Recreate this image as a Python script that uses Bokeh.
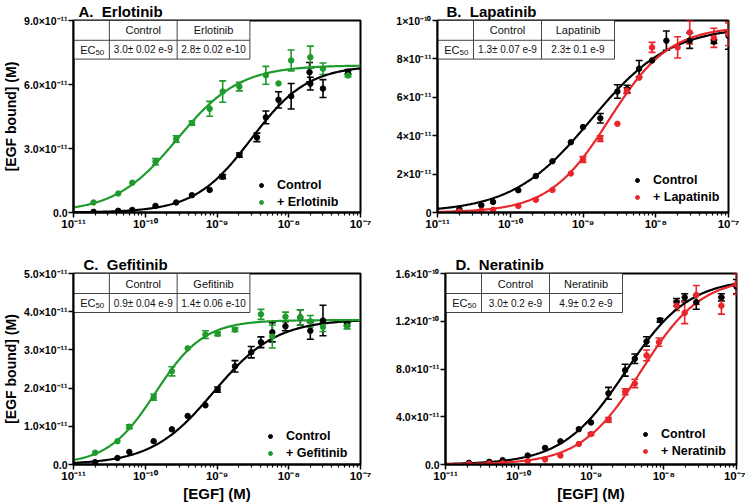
import numpy as np
from bokeh.plotting import figure
from bokeh.layouts import column, row
from bokeh.models import (ColumnDataSource, FixedTicker, CustomJSTickFormatter, Range1d,
                          Whisker, TeeHead, Legend, LegendItem, Title)
from bokeh.core.properties import value
from bokeh.embed import file_html
from bokeh.resources import INLINE

FONT = "Liberation Sans"
BLACK = "#000000"
GREEN = "#1f9a2c"
RED = "#e8262b"

# ---------------- shared x axis ----------------
x_ticks = [1e-11, 1e-10, 1e-9, 1e-8, 1e-7]
x_tick_labels = ["10⁻¹¹", "10⁻¹⁰", "10⁻⁹", "10⁻⁸", "10⁻⁷"]

# ---------------- Panel A: Erlotinib ----------------
a_ctrl_x = [1.9e-11, 4.2e-11, 6.6e-11, 1.39e-10, 2.7e-10, 4.47e-10, 7.9e-10, 1.2e-9, 2.05e-9,
            3.6e-9, 4.8e-9, 7.2e-9, 1.08e-8, 1.95e-8, 2.0e-8, 3.0e-8, 6.7e-8]
a_ctrl_y = [0.03e-11, 0.08e-11, 0.12e-11, 0.31e-11, 0.47e-11, 0.81e-11, 1.06e-11, 1.68e-11, 2.69e-11,
            3.52e-11, 4.46e-11, 5.28e-11, 5.45e-11, 6.58e-11, 6.04e-11, 5.81e-11, 6.6e-11]
a_ctrl_err = [0, 0, 0, 0, 0, 0, 0, 0.1e-11, 0.1e-11,
              0.2e-11, 0.3e-11, 0.38e-11, 0.6e-11, 0.45e-11, 0.3e-11, 0.42e-11, 0.1e-11]
a_drug_x = [1.9e-11, 4.2e-11, 6.6e-11, 1.39e-10, 2.7e-10, 4.47e-10, 7.9e-10, 1.2e-9, 2.05e-9,
            4.8e-9, 7.2e-9, 1.08e-8, 2.0e-8, 3.0e-8, 6.7e-8]
a_drug_y = [0.47e-11, 0.89e-11, 1.40e-11, 2.38e-11, 3.45e-11, 4.19e-11, 4.86e-11, 5.67e-11, 5.90e-11,
            6.43e-11, 6.05e-11, 7.13e-11, 7.28e-11, 6.74e-11, 6.42e-11]
a_drug_err = [0, 0, 0, 0.15e-11, 0.15e-11, 0.1e-11, 0.35e-11, 0.5e-11, 0.2e-11,
              0.42e-11, 0, 0.49e-11, 0.52e-11, 0.27e-11, 0.05e-11]
a_ctrl_fit = dict(ec50=3.0e-9, top=6.9e-11, hill=1.1)
a_drug_fit = dict(ec50=2.8e-10, top=6.9e-11, hill=1.0)
a_y_ticks = [0, 3e-11, 6e-11, 9e-11]
a_y_labels = ["0.0", "3.0×10⁻¹¹", "6.0×10⁻¹¹", "9.0×10⁻¹¹"]
a_header = ["Control", "Erlotinib"]
a_ec50 = ["3.0± 0.02 e-9", "2.8± 0.02 e-10"]

# ---------------- Panel B: Lapatinib ----------------
b_ctrl_x = [2.0e-11, 4.0e-11, 5.8e-11, 1.29e-10, 2.25e-10, 3.8e-10, 6.8e-10, 1.0e-9, 1.73e-9,
            2.97e-9, 4.05e-9, 5.9e-9, 8.9e-9, 1.4e-8, 2.93e-8, 6.3e-8, 1.0e-7]
b_ctrl_y = [0.17e-11, 0.38e-11, 0.55e-11, 1.16e-11, 1.90e-11, 2.67e-11, 3.66e-11, 4.45e-11, 4.91e-11,
            6.3e-11, 6.43e-11, 7.49e-11, 7.92e-11, 8.95e-11, 8.95e-11, 8.9e-11, 9.2e-11]
b_ctrl_err = [0, 0, 0, 0, 0, 0, 0, 0, 0.25e-11,
              0.35e-11, 0.2e-11, 0.43e-11, 0, 0.5e-11, 0.4e-11, 0.1e-11, 0.7e-11]
b_drug_x = [2.0e-11, 4.0e-11, 5.8e-11, 1.29e-10, 2.25e-10, 3.8e-10, 6.8e-10, 1.0e-9, 1.73e-9,
            2.97e-9, 4.0e-9, 5.9e-9, 8.9e-9, 2.0e-8, 2.93e-8, 6.3e-8, 1.0e-7]
b_drug_y = [0.05e-11, 0.09e-11, 0.14e-11, 0.34e-11, 0.66e-11, 1.17e-11, 2.03e-11, 2.76e-11, 3.85e-11,
            4.62e-11, 6.35e-11, 7.02e-11, 8.6e-11, 8.6e-11, 9.38e-11, 9.1e-11, 9.3e-11]
b_drug_err = [0, 0, 0, 0, 0, 0, 0, 0.15e-11, 0.15e-11,
              0, 0.15e-11, 0, 0.26e-11, 0.55e-11, 0.6e-11, 0.5e-11, 0.6e-11]
b_ctrl_fit = dict(ec50=1.3e-9, top=9.7e-11, hill=0.8)
b_drug_fit = dict(ec50=2.3e-9, top=9.7e-11, hill=1.05)
b_y_ticks = [0, 2e-11, 4e-11, 6e-11, 8e-11, 1e-10]
b_y_labels = ["0", "2×10⁻¹¹", "4×10⁻¹¹", "6×10⁻¹¹", "8×10⁻¹¹", "1×10⁻¹⁰"]
b_header = ["Control", "Lapatinib"]
b_ec50 = ["1.3± 0.07 e-9", "2.3± 0.1 e-9"]

# ---------------- Panel C: Gefitinib ----------------
c_ctrl_x = [2.0e-11, 4.1e-11, 6.0e-11, 1.31e-10, 2.35e-10, 3.9e-10, 6.9e-10, 1.02e-9, 1.78e-9,
            3.0e-9, 4.1e-9, 5.9e-9, 9.0e-9, 1.45e-8, 2.0e-8, 3.0e-8, 6.5e-8]
c_ctrl_y = [0.06e-11, 0.17e-11, 0.33e-11, 0.61e-11, 0.92e-11, 1.27e-11, 1.55e-11, 1.96e-11, 2.57e-11,
            2.94e-11, 3.2e-11, 3.46e-11, 3.62e-11, 3.85e-11, 3.5e-11, 3.77e-11, 3.68e-11]
c_ctrl_err = [0, 0, 0, 0, 0, 0, 0, 0.07e-11, 0.15e-11,
              0.15e-11, 0.14e-11, 0.25e-11, 0.12e-11, 0.2e-11, 0.22e-11, 0.4e-11, 0.05e-11]
c_drug_x = [2.0e-11, 4.1e-11, 6.0e-11, 1.31e-10, 2.35e-10, 3.9e-10, 6.9e-10, 1.02e-9, 1.78e-9,
            4.1e-9, 5.9e-9, 9.0e-9, 1.45e-8, 2.0e-8, 3.0e-8, 6.5e-8]
c_drug_y = [0.31e-11, 0.61e-11, 0.99e-11, 1.76e-11, 2.44e-11, 3.04e-11, 3.40e-11, 3.42e-11, 3.53e-11,
            3.93e-11, 3.35e-11, 3.87e-11, 3.85e-11, 3.75e-11, 3.6e-11, 3.62e-11]
c_drug_err = [0, 0, 0.05e-11, 0.08e-11, 0.12e-11, 0, 0.1e-11, 0.05e-11, 0.05e-11,
              0.13e-11, 0.3e-11, 0.12e-11, 0.2e-11, 0.15e-11, 0.12e-11, 0.07e-11]
c_ctrl_fit = dict(ec50=0.9e-9, top=3.8e-11, hill=1.0)
c_drug_fit = dict(ec50=1.4e-10, top=3.78e-11, hill=1.3)
c_y_ticks = [0, 1e-11, 2e-11, 3e-11, 4e-11, 5e-11]
c_y_labels = ["0.0", "1.0×10⁻¹¹", "2.0×10⁻¹¹", "3.0×10⁻¹¹", "4.0×10⁻¹¹", "5.0×10⁻¹¹"]
c_header = ["Control", "Gefitinib"]
c_ec50 = ["0.9± 0.04 e-9", "1.4± 0.06 e-10"]

# ---------------- Panel D: Neratinib ----------------
d_ctrl_x = [2.1e-11, 4.0e-11, 6.1e-11, 1.35e-10, 2.34e-10, 3.8e-10, 6.8e-10, 1.0e-9, 1.74e-9,
            2.95e-9, 4.0e-9, 5.8e-9, 8.9e-9, 1.5e-8, 1.94e-8, 2.8e-8, 6.2e-8, 1.0e-7]
d_ctrl_y = [0.14e-11, 0.22e-11, 0.36e-11, 0.75e-11, 1.39e-11, 1.94e-11, 2.96e-11, 3.52e-11, 5.96e-11,
            7.9e-11, 8.86e-11, 10.3e-11, 12.08e-11, 13.6e-11, 14.0e-11, 13.6e-11, 14.0e-11, 14.9e-11]
d_ctrl_err = [0, 0, 0, 0, 0, 0, 0, 0, 0.5e-11,
              0.5e-11, 0.4e-11, 0.4e-11, 0.15e-11, 0.3e-11, 0.3e-11, 0.6e-11, 0.3e-11, 0.6e-11]
d_drug_x = [2.1e-11, 4.0e-11, 6.1e-11, 1.35e-10, 2.34e-10, 3.8e-10, 6.8e-10, 1.0e-9, 1.74e-9,
            2.95e-9, 4.0e-9, 5.8e-9, 8.6e-9, 1.5e-8, 1.94e-8, 2.8e-8, 6.2e-8, 1.0e-7]
d_drug_y = [0.05e-11, 0.08e-11, 0.11e-11, 0.28e-11, 0.42e-11, 0.75e-11, 1.72e-11, 2.55e-11, 3.74e-11,
            6.09e-11, 6.79e-11, 9.14e-11, 10.25e-11, 13.3e-11, 12.7e-11, 14.2e-11, 13.3e-11, 15.1e-11]
d_drug_err = [0, 0, 0, 0, 0, 0, 0, 0.1e-11, 0.2e-11,
              0.25e-11, 0.35e-11, 0.45e-11, 0.35e-11, 0.4e-11, 0.9e-11, 0.8e-11, 0.7e-11, 0.85e-11]
d_ctrl_fit = dict(ec50=3.0e-9, top=15.6e-11, hill=1.0)
d_drug_fit = dict(ec50=4.9e-9, top=15.7e-11, hill=1.05)
d_y_ticks = [0, 4e-11, 8e-11, 1.2e-10, 1.6e-10]
d_y_labels = ["0.0", "4.0×10⁻¹¹", "8.0×10⁻¹¹", "1.2×10⁻¹⁰", "1.6×10⁻¹⁰"]
d_header = ["Control", "Neratinib"]
d_ec50 = ["3.0± 0.2 e-9", "4.9± 0.2 e-9"]


def tick_formatter(tick_values, tick_texts):
    return CustomJSTickFormatter(args=dict(tvals=tick_values, ttexts=tick_texts), code="""
        for (let i = 0; i < tvals.length; i++) {
            const t = tvals[i];
            if (Math.abs(tick - t) <= 1e-6 * Math.abs(t) + 1e-30) return ttexts[i];
        }
        return "";
    """)


def fit_curve(xs, fit):
    h = fit["hill"]
    return fit["top"] * xs ** h / (fit["ec50"] ** h + xs ** h)


def panel(title, title_dx, ymax, y_ticks, y_labels,
          ctrl, drug, drug_color, drug_name, header, ec50_texts,
          legend_pos, width, height, borders, ylabel=None, xlabel=None):
    mbl, mbr, mbt, mbb = borders
    W = width - mbl - mbr
    H = height - mbt - mbb
    p = figure(width=width, height=height, x_axis_type="log",
               x_range=Range1d(1e-11, 1e-7), y_range=Range1d(0, ymax),
               output_backend="svg", toolbar_location=None,
               min_border_left=mbl, min_border_right=mbr,
               min_border_top=mbt, min_border_bottom=mbb)
    p.grid.visible = False
    p.outline_line_color = "black"
    p.outline_line_width = 2
    p.outline_line_alpha = 1

    p.title = Title(text=title, align="left", offset=title_dx, standoff=1,
                    text_font=FONT, text_font_style="bold", text_font_size="15px",
                    text_color="black")

    def fx(px):
        return 10 ** (-11 + 4 * px / W)

    def fy(py):
        return ymax * (1 - py / H)

    # axes
    xa = p.xaxis[0]
    xa.ticker = FixedTicker(ticks=x_ticks,
                            minor_ticks=[m * 10.0 ** e for e in range(-11, -7) for m in range(2, 10)])
    xa.formatter = tick_formatter(x_ticks, x_tick_labels)
    ya = p.yaxis[0]
    ya.ticker = FixedTicker(ticks=y_ticks)
    ya.formatter = tick_formatter(y_ticks, y_labels)
    for ax in (xa, ya):
        ax.axis_line_width = 2
        ax.axis_line_color = "black"
        ax.major_tick_line_width = 1.5
        ax.major_tick_line_color = "black"
        ax.major_tick_in = 0
        ax.major_tick_out = 5
        ax.major_label_text_font = FONT
        ax.major_label_text_font_style = "bold"
        ax.major_label_text_color = "black"
        ax.major_label_standoff = 1
        ax.axis_label_text_font = FONT
        ax.axis_label_text_font_style = "bold"
        ax.axis_label_text_color = "black"
    xa.minor_tick_in = 0
    xa.minor_tick_out = 3
    xa.minor_tick_line_width = 1.2
    xa.minor_tick_line_color = "black"
    xa.major_label_text_font_size = "11.5px"
    xa.major_label_standoff = 0
    ya.minor_tick_out = 0
    ya.minor_tick_in = 0
    ya.major_label_text_font_size = "10.5px"
    if ylabel:
        ya.axis_label = ylabel
        ya.axis_label_text_font_size = "14px"
        ya.axis_label_standoff = 2
    if xlabel:
        xa.axis_label = xlabel
        xa.axis_label_text_font_size = "15px"
        xa.axis_label_standoff = 0

    # fitted curves (one-site fits, EC50 as in the table)
    xs = np.logspace(-11, -7, 300)
    for fit, color in ((ctrl[3], BLACK), (drug[3], drug_color)):
        p.line(xs, fit_curve(xs, fit), line_color=color, line_width=2.2)

    renderers = []
    for (xv, yv, ev, _), color in ((ctrl, BLACK), (drug, drug_color)):
        keep = [i for i, e in enumerate(ev) if e > 0]
        src = ColumnDataSource(dict(
            x=[xv[i] for i in keep],
            upper=[yv[i] + ev[i] for i in keep],
            lower=[yv[i] - ev[i] for i in keep]))
        w = Whisker(source=src, base="x", upper="upper", lower="lower",
                    line_color=color, line_width=1.6,
                    upper_head=TeeHead(size=7, line_color=color, line_width=1.6),
                    lower_head=TeeHead(size=7, line_color=color, line_width=1.6))
        p.add_layout(w)
        r = p.scatter(xv, yv, size=5.5, color=color, marker="circle")
        renderers.append(r)

    # EC50 table
    cols = [0, 36, 104, 177]
    rows = [0, 20, 39]
    p.quad(left=[fx(cols[0])], right=[fx(cols[3])], top=[fy(rows[0])], bottom=[fy(rows[2])],
           fill_color="white", line_color=None)
    hx0 = [fx(cols[0]), fx(cols[0])]
    hx1 = [fx(cols[3]), fx(cols[3])]
    hy = [fy(rows[1]), fy(rows[2])]
    p.segment(x0=hx0, y0=hy, x1=hx1, y1=hy, line_color="#444444", line_width=1)
    vx = [fx(cols[1]), fx(cols[2]), fx(cols[3])]
    p.segment(x0=vx, y0=[fy(rows[0])] * 3, x1=vx, y1=[fy(rows[2])] * 3,
              line_color="#444444", line_width=1)
    ccent = [fx((cols[i] + cols[i + 1]) / 2) for i in range(3)]
    r1 = fy((rows[0] + rows[1]) / 2)
    r2 = fy((rows[1] + rows[2]) / 2)
    p.text(x=ccent[1:], y=[r1, r1], text=header, text_align="center", text_baseline="middle",
           text_font=value(FONT), text_font_size="11px", text_color="#111111")
    p.text(x=ccent[1:], y=[r2, r2], text=ec50_texts, text_align="center", text_baseline="middle",
           text_font=value(FONT), text_font_size="10px", text_color="#111111")
    p.text(x=[fx(cols[1] / 2 + 4)], y=[r2], text=["EC"], text_align="right", text_baseline="middle",
           text_font=value(FONT), text_font_size="11px", text_color="#111111")
    p.text(x=[fx(cols[1] / 2 + 4)], y=[r2], text=["50"], text_align="left", text_baseline="top",
           text_font=value(FONT), text_font_size="8px", text_color="#111111")

    # legend
    leg = Legend(items=[LegendItem(label="Control", renderers=[renderers[0]]),
                        LegendItem(label=drug_name, renderers=[renderers[1]])],
                 location=legend_pos, orientation="vertical",
                 border_line_alpha=0, background_fill_alpha=0,
                 padding=4, margin=0, spacing=3,
                 glyph_width=10, glyph_height=14, label_height=14, label_standoff=11,
                 label_text_font=FONT, label_text_font_style="bold",
                 label_text_font_size="12.5px", label_text_color="black")
    p.add_layout(leg)
    return p


pA = panel("A.\u00a0 Erlotinib", 5, 9e-11, a_y_ticks, a_y_labels,
           (a_ctrl_x, a_ctrl_y, a_ctrl_err, a_ctrl_fit), (a_drug_x, a_drug_y, a_drug_err, a_drug_fit),
           GREEN, "+ Erlotinib", a_header, a_ec50, (188 - 9, -1),
           372, 248, (72, 12, 18, 36), ylabel="[EGF bound] (M)")
pB = panel("B.\u00a0 Lapatinib", 9, 1e-10, b_y_ticks, b_y_labels,
           (b_ctrl_x, b_ctrl_y, b_ctrl_err, b_ctrl_fit), (b_drug_x, b_drug_y, b_drug_err, b_drug_fit),
           RED, "+ Lapatinib", b_header, b_ec50, (200 - 9, 4),
           373, 248, (65, 17, 18, 36))
pC = panel("C.\u00a0 Gefitinib", 10, 5e-11, c_y_ticks, c_y_labels,
           (c_ctrl_x, c_ctrl_y, c_ctrl_err, c_ctrl_fit), (c_drug_x, c_drug_y, c_drug_err, c_drug_fit),
           GREEN, "+ Gefitinib", c_header, c_ec50, (197 - 9, 0),
           372, 256, (72, 12, 25, 40), ylabel="[EGF bound] (M)", xlabel="[EGF] (M)")
pD = panel("D.\u00a0 Neratinib", 10, 1.6e-10, d_y_ticks, d_y_labels,
           (d_ctrl_x, d_ctrl_y, d_ctrl_err, d_ctrl_fit), (d_drug_x, d_drug_y, d_drug_err, d_drug_fit),
           RED, "+ Neratinib", d_header, d_ec50, (200 - 9, 2),
           373, 256, (73, 9, 25, 40), xlabel="[EGF] (M)")

layout = column(row(pA, pB), row(pC, pD))
open("out.html", "w").write(file_html(layout, INLINE))
